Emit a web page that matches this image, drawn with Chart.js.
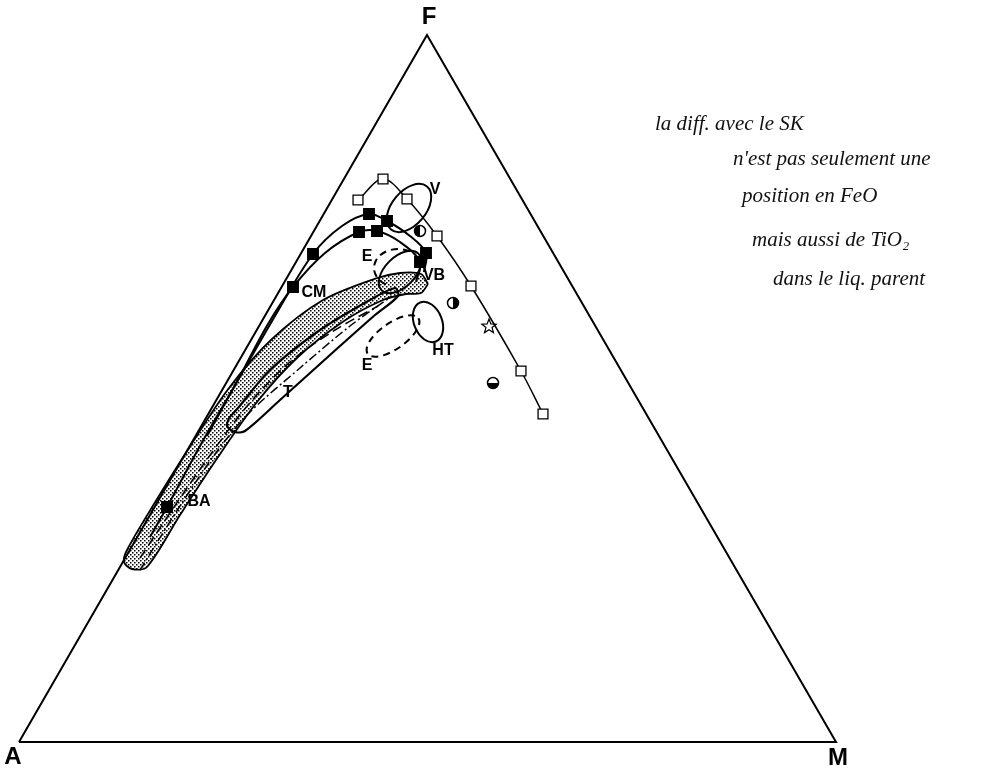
<!DOCTYPE html>
<html>
<head>
<meta charset="utf-8">
<script src="https://cdn.jsdelivr.net/npm/chart.js@4.4.0/dist/chart.umd.min.js"></script>
<style>
body{margin:0;background:#fff;}
</style>
</head>
<body>
<canvas id="afm" width="1007" height="769"></canvas>
<script>
// AFM diagram, values (picture coordinates)
var triangle = [{x:19,y:742},{x:836,y:742},{x:427,y:35},{x:19,y:742}];

var openChain = [{x:358,y:200},{x:383,y:179},{x:407,y:199},{x:437,y:236},{x:471,y:286},{x:521,y:371},{x:543,y:414}];
var starPoint = [{x:489,y:326}];
var halfLeft = [{x:420,y:231}];
var halfRight = [{x:453,y:303}];
var halfBottom = [{x:493,y:383}];

var outerTrend = [{x:150,y:537},{x:167,y:507},{x:200,y:446},{x:237,y:382},{x:275,y:316},{x:313,y:254},{x:342,y:226},{x:369,y:214},{x:387,y:221},{x:410,y:236},{x:426,y:253},{x:424,y:272}];
var outerSquares = [0,1,0,0,0,1,0,1,1,0,1,0];
var cmTrend = [{x:207,y:436},{x:240,y:376},{x:268,y:324},{x:293,y:287},{x:325,y:253},{x:359,y:232},{x:377,y:231},{x:400,y:242},{x:420,y:262},{x:416,y:282}];
var cmSquares = [0,0,0,1,0,1,1,0,1,0];

var band = [{x:428,y:284},{x:421,y:274},{x:400,y:273},{x:374,y:279},{x:323,y:300},{x:272,y:339},{x:229,y:388},{x:189,y:448},{x:154,y:504},{x:127,y:550},{x:124,y:562},{x:132,y:569},
            {x:147,y:567},{x:180,y:515},{x:216,y:460},{x:257,y:402},{x:298,y:357},{x:344,y:321},{x:383,y:300},{x:406,y:294},{x:421,y:293},{x:428,y:284}];
var tLoop = [{x:229,y:418},{x:227,y:426},{x:235,y:432},{x:245,y:431},{x:280,y:400},{x:330,y:355},{x:375,y:315},{x:398,y:296},{x:395,y:288},{x:370,y:300},{x:320,y:330},{x:270,y:370},{x:238,y:408},{x:229,y:418}];
var dashTrend = [{x:140,y:558},{x:172,y:510},{x:208,y:458},{x:248,y:405},{x:290,y:362},{x:335,y:330},{x:378,y:306}];
var dashDotTrend = [{x:140,y:570},{x:180,y:506},{x:218,y:450},{x:250,y:412},{x:300,y:368},{x:350,y:326},{x:392,y:296}];

// ellipses: centre, semi axes, rotation (deg), dashed, arc start/end (deg)
var ellCx = [409, 400, 398, 428, 393];
var ellCy = [208, 272, 268, 322, 336];
var ellRx = [28, 26, 24, 14, 31];
var ellRy = [17, 15, 19, 21, 13];
var ellRot = [-50, -45, 0, -22, -35];
var ellDash = [false, false, true, false, true];
var ellFrom = [0, 0, 120, 0, 0];
var ellTo = [360, 360, 300, 360, 360];

var labelText = ['F','A','M','V','E','VB','CM','E','HT','T','BA'];
var labelX = [429, 13, 838, 435, 367, 434, 314, 367, 443, 288, 199];
var labelY = [17, 757, 758, 190, 257, 276, 293, 366, 351, 393, 502];
var labelSize = [24, 24, 24, 16, 16, 16, 16, 16, 16, 16, 16];

var noteLines = ["la diff. avec le SK", "n'est pas seulement une", "position en FeO", "mais aussi de TiO\u2082", "dans le liq. parent"];
var noteX = [655, 733, 742, 752, 773];
var noteY = [124, 159, 196, 240, 279];
var noteW = [190, 264, 175, 238, 224];

function makeHalf(side) {
  var c = document.createElement('canvas');
  c.width = 14; c.height = 14;
  var g = c.getContext('2d');
  g.fillStyle = '#fff';
  g.beginPath(); g.arc(7,7,5.5,0,Math.PI*2); g.fill();
  g.fillStyle = '#000';
  g.beginPath();
  if (side == 'left') g.arc(7,7,5.5,Math.PI/2,Math.PI*1.5);
  if (side == 'right') g.arc(7,7,5.5,-Math.PI/2,Math.PI/2);
  if (side == 'bottom') g.arc(7,7,5.5,0,Math.PI);
  g.closePath(); g.fill();
  g.strokeStyle = '#000'; g.lineWidth = 1.5;
  g.beginPath(); g.arc(7,7,5.5,0,Math.PI*2); g.stroke();
  return c;
}

function makeStar() {
  var c = document.createElement('canvas');
  c.width = 18; c.height = 18;
  var g = c.getContext('2d');
  g.strokeStyle = '#000'; g.lineWidth = 1.2;
  g.beginPath();
  for (var i = 0; i < 10; i++) {
    var r = i % 2 ? 3.2 : 7.5;
    var a = -Math.PI/2 + i*Math.PI/5;
    g.lineTo(9 + r*Math.cos(a), 9.5 + r*Math.sin(a));
  }
  g.closePath(); g.stroke();
  return c;
}

function makeDots() {
  var c = document.createElement('canvas');
  c.width = 4; c.height = 4;
  var g = c.getContext('2d');
  g.fillStyle = '#fff'; g.fillRect(0,0,4,4);
  g.fillStyle = '#000';
  g.fillRect(0,0,1.5,1.5);
  g.fillRect(2,2,1.5,1.5);
  return g.createPattern(c, 'repeat');
}

var ellipsePlugin = {
  id: 'ellipses',
  afterDatasetsDraw: function(chart) {
    var c = chart.ctx, sx = chart.scales.x, sy = chart.scales.y;
    c.save();
    c.strokeStyle = '#000';
    c.lineWidth = 2;
    for (var i = 0; i < ellCx.length; i++) {
      var px = sx.getPixelForValue(ellCx[i]);
      var py = sy.getPixelForValue(ellCy[i]);
      var rx = Math.abs(sx.getPixelForValue(ellCx[i] + ellRx[i]) - px);
      var ry = Math.abs(sy.getPixelForValue(ellCy[i] + ellRy[i]) - py);
      c.setLineDash(ellDash[i] ? [7,5] : []);
      c.beginPath();
      c.ellipse(px, py, rx, ry, ellRot[i]*Math.PI/180, ellFrom[i]*Math.PI/180, ellTo[i]*Math.PI/180);
      c.stroke();
    }
    c.restore();
  }
};

var labelPlugin = {
  id: 'labels',
  afterDraw: function(chart) {
    var c = chart.ctx, sx = chart.scales.x, sy = chart.scales.y;
    c.save();
    c.fillStyle = '#000';
    c.textAlign = 'center';
    c.textBaseline = 'middle';
    for (var i = 0; i < labelText.length; i++) {
      c.font = 'bold ' + labelSize[i] + 'px "Liberation Sans", Arial, sans-serif';
      c.fillText(labelText[i], sx.getPixelForValue(labelX[i]), sy.getPixelForValue(labelY[i]));
    }
    c.textAlign = 'left';
    c.font = 'italic 21px "Liberation Serif", serif';
    c.fillStyle = '#111';
    for (var j = 0; j < noteLines.length; j++) {
      c.fillText(noteLines[j], sx.getPixelForValue(noteX[j]), sy.getPixelForValue(noteY[j]), noteW[j]);
    }
    c.restore();
  }
};

var ctx = document.getElementById('afm');

var myChart = new Chart(ctx, {
  type: 'scatter',
  data: {
    datasets: [
      { data: triangle, showLine: true, borderColor: '#000', borderWidth: 2, pointRadius: 0, tension: 0 },
      { data: openChain, showLine: true, borderColor: '#000', borderWidth: 1.5, tension: 0.35,
        pointStyle: 'rect', pointRadius: 7, pointBackgroundColor: '#fff', pointBorderColor: '#000', pointBorderWidth: 1.3 },
      { data: starPoint, pointStyle: makeStar() },
      { data: halfLeft, pointStyle: makeHalf('left') },
      { data: halfRight, pointStyle: makeHalf('right') },
      { data: halfBottom, pointStyle: makeHalf('bottom') },
      { data: outerTrend, showLine: true, borderColor: '#000', borderWidth: 2, tension: 0.35,
        pointStyle: 'rect', pointRadius: outerSquares.map(function(d){ return d*7; }), pointBackgroundColor: '#000', pointBorderColor: '#000' },
      { data: cmTrend, showLine: true, borderColor: '#000', borderWidth: 2, tension: 0.35,
        pointStyle: 'rect', pointRadius: cmSquares.map(function(d){ return d*7; }), pointBackgroundColor: '#000', pointBorderColor: '#000' },
      { data: tLoop, showLine: true, borderColor: '#000', borderWidth: 2.2, tension: 0.3, pointRadius: 0, order: 5 },
      { data: dashTrend, showLine: true, borderColor: '#000', borderWidth: 1.5, borderDash: [10,5], tension: 0.3, pointRadius: 0, order: 6 },
      { data: dashDotTrend, showLine: true, borderColor: '#000', borderWidth: 1.5, borderDash: [9,3,2,3], tension: 0.3, pointRadius: 0, order: 6 },
      { data: band, showLine: true, fill: 'shape', backgroundColor: makeDots(), borderColor: '#000', borderWidth: 1.8, tension: 0.3, pointRadius: 0, order: 10 }
    ]
  },
  options: {
    responsive: false,
    animation: false,
    layout: { padding: 0, autoPadding: false },
    plugins: { legend: { display: false }, tooltip: { enabled: false } },
    scales: {
      x: { type: 'linear', min: 0, max: 1007, display: false },
      y: { type: 'linear', min: 0, max: 769, reverse: true, display: false }
    }
  },
  plugins: [ellipsePlugin, labelPlugin]
});
</script>
</body>
</html>
